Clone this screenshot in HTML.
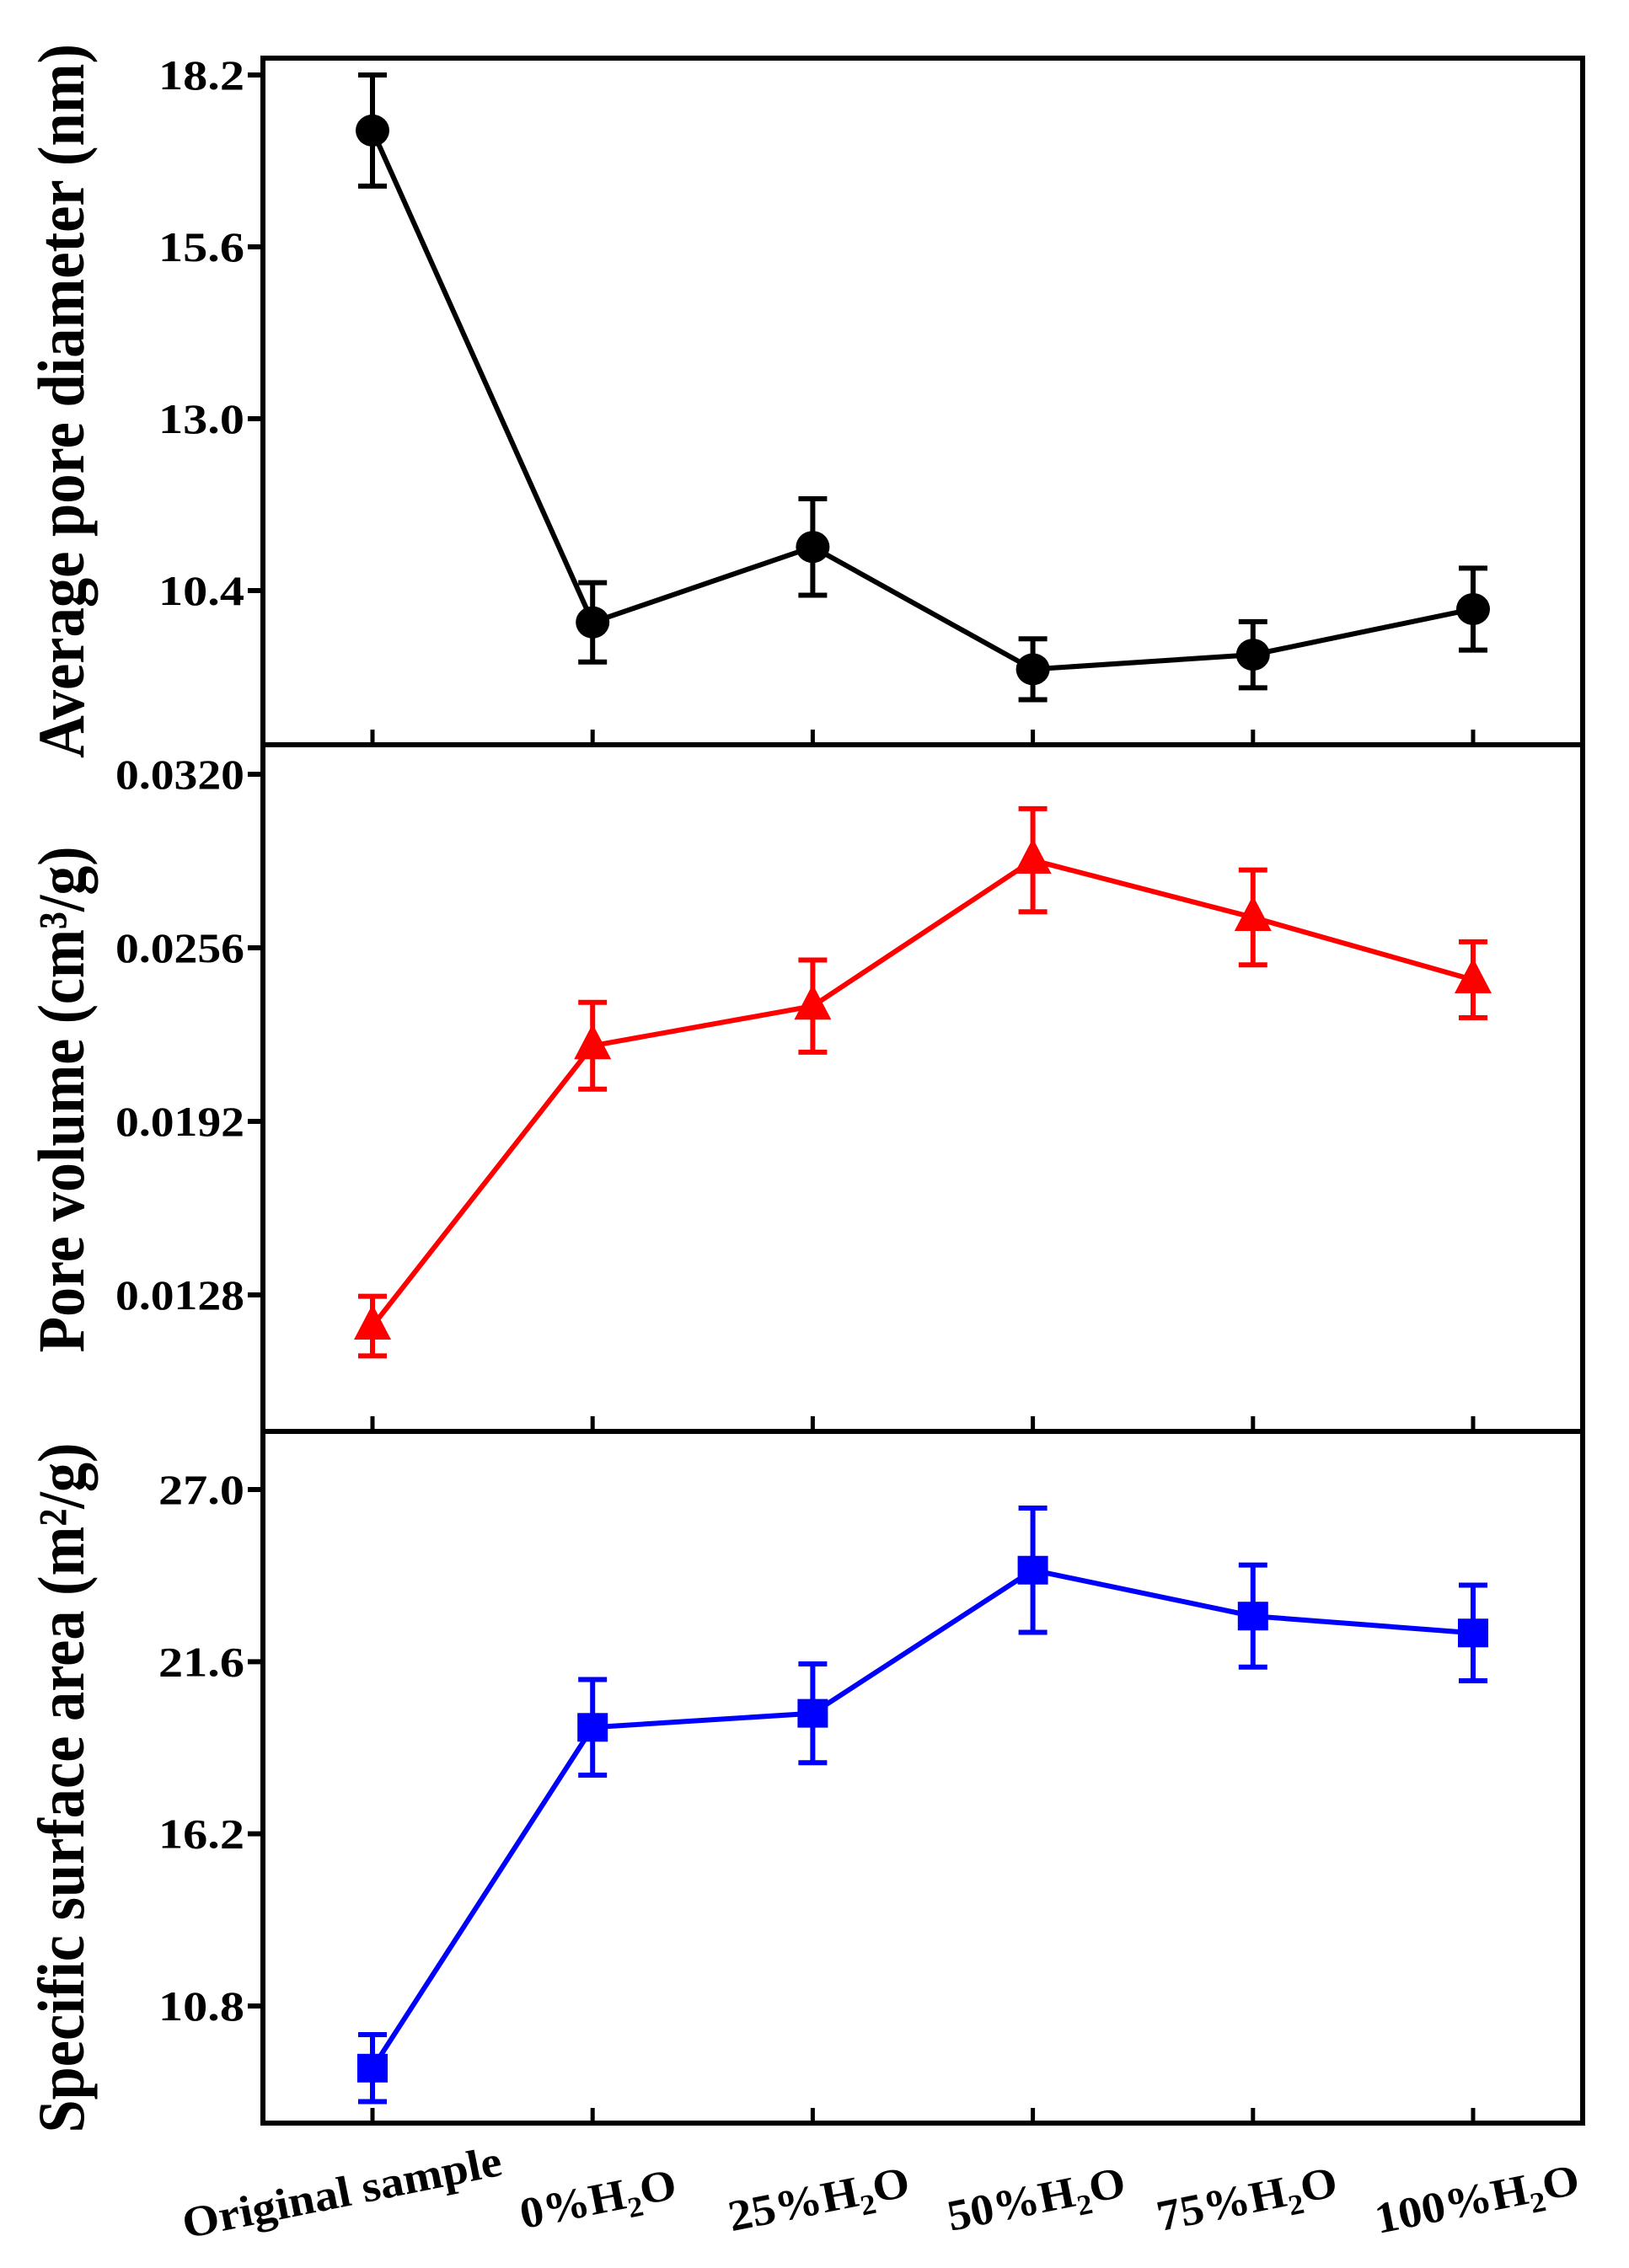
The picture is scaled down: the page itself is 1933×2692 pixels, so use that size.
<!DOCTYPE html>
<html><head><meta charset="utf-8"><style>
html,body{margin:0;padding:0;background:#fff;}
svg{display:block;}
text{font-family:"Liberation Serif",serif;font-weight:bold;fill:#000;}
</style></head><body>
<svg id="chart" width="1933" height="2692" viewBox="0 0 1933 2692" xmlns="http://www.w3.org/2000/svg"></svg>
<script>
const categories = ["Original sample","0%H2O","25%H2O","50%H2O","75%H2O","100%H2O"];
const diameterValues = [17.36, 9.92, 11.06, 9.21, 9.43, 10.12];
const diameterErrors = [0.84, 0.60, 0.73, 0.46, 0.50, 0.62];
const volumeValues = [0.01165, 0.02199, 0.02345, 0.02883, 0.02672, 0.02442];
const volumeErrors = [0.0011, 0.0016, 0.0017, 0.0019, 0.00175, 0.0014];
const areaValues = [8.85, 19.54, 19.98, 24.47, 23.03, 22.50];
const areaErrors = [1.05, 1.50, 1.55, 1.95, 1.60, 1.50];
const diameterTicks = ["18.2","15.6","13.0","10.4"];
const volumeTicks = ["0.0320","0.0256","0.0192","0.0128"];
const areaTicks = ["27.0","21.6","16.2","10.8"];

const NS = "http://www.w3.org/2000/svg";
const svg = document.getElementById('chart');
const L = 312, R = 1878;
const catX0 = 442, catStep = 261.2;
function xScale(i){ return catX0 + i*catStep; }
function mk(tag, attrs, parent){
  const e = document.createElementNS(NS, tag);
  for (const k in attrs) e.setAttribute(k, attrs[k]);
  (parent||svg).appendChild(e);
  return e;
}
function linScale(v0, y0, v1, y1){ return v => y0 + (v - v0) * (y1 - y0) / (v1 - v0); }

const panels = [
  {name:'diameter', top:69, bottom:884, y:linScale(18.2,89,10.4,701), vals:diameterValues, errs:diameterErrors, ticks:diameterTicks, color:'#000', marker:'circle',
   title:'Average pore diameter (nm)', tcy:476, tlen:848},
  {name:'volume', top:884, bottom:1699, y:linScale(0.032,919,0.0128,1537), vals:volumeValues, errs:volumeErrors, ticks:volumeTicks, color:'#ff0000', marker:'triangle',
   title:'Pore volume (cm³/g)', tcy:1305, tlen:601},
  {name:'area', top:1699, bottom:2520, y:linScale(27.0,1768,10.8,2381), vals:areaValues, errs:areaErrors, ticks:areaTicks, color:'#0000ff', marker:'square',
   title:'Specific surface area (m²/g)', tcy:2122, tlen:819}
];

panels.forEach(p => {
  const g = mk('g', {});
  
  
  const fr = mk('rect', {x:L, y:p.top, width:R-L, height:p.bottom-p.top, fill:'none', stroke:'#000', 'stroke-width':6}, g);
  
  
  categories.forEach((c,i) => {
    const t = mk('line', {x1:xScale(i), x2:xScale(i), y1:p.bottom, y2:p.bottom-18, stroke:'#000', 'stroke-width':5}, g);
    
    
  });
  p.ticks.forEach(tl => {
    const yy = p.y(parseFloat(tl));
    const t = mk('line', {x1:L-18, x2:L, y1:yy, y2:yy, stroke:'#000', 'stroke-width':6}, g);
    
    
    const tx = mk('text', {x:290, y:yy+17, 'text-anchor':'end', 'font-size':50, textLength:tl.length*25.5, lengthAdjust:'spacingAndGlyphs'}, g);
    tx.textContent = tl;
    
    
  });
  const tt = mk('text', {x:0, y:0, 'text-anchor':'middle', 'font-size':78, textLength:p.tlen, lengthAdjust:'spacingAndGlyphs',
    transform:`translate(99,${p.tcy}) rotate(-90)`}, g);
  tt.textContent = p.title;
  
  
  const pts = p.vals.map((v,i) => xScale(i) + ',' + p.y(v)).join(' ');
  const pl = mk('polyline', {points:pts, fill:'none', stroke:p.color, 'stroke-width':6}, g);
  
  
  p.vals.forEach((v,i) => {
    const x = xScale(i), yc = p.y(v), yt = p.y(v + p.errs[i]), yb = p.y(v - p.errs[i]);
    const eb = mk('path', {d:`M${x},${yt}V${yb}M${x-17},${yt}H${x+17}M${x-17},${yb}H${x+17}`, stroke:p.color, 'stroke-width':6, fill:'none'}, g);
    
    
    let m;
    if (p.marker === 'circle') m = mk('ellipse', {cx:x, cy:yc, rx:20, ry:19, fill:p.color}, g);
    else if (p.marker === 'square') m = mk('rect', {x:x-18, y:yc-17, width:36, height:34, fill:p.color}, g);
    else m = mk('polygon', {points:`${x},${yc-26} ${x-22},${yc+16} ${x+22},${yc+16}`, fill:p.color}, g);
    
    
  });
});

const labelCx = [409, 713, 975, 1233, 1483, 1756];
const labelLen = [385, 188, 218, 214, 217, 246];
categories.forEach((c,i) => {
  const t = mk('text', {x:0, y:0, 'text-anchor':'middle', 'font-size':52, textLength:labelLen[i], lengthAdjust:'spacingAndGlyphs',
    transform:`translate(${labelCx[i]},${i===0?2619:2627}) rotate(-11.3)`});
  if (c.indexOf('H2O') >= 0) {
    const pre = c.replace('H2O','');
    const s1 = mk('tspan', {}, t); s1.textContent = pre + 'H';
    const s2 = mk('tspan', {dy:12, 'font-size':34}, t); s2.textContent = '2';
    const s3 = mk('tspan', {dy:-12}, t); s3.textContent = 'O';
  } else {
    t.textContent = c;
  }
  
  
});
</script>
</body></html>
